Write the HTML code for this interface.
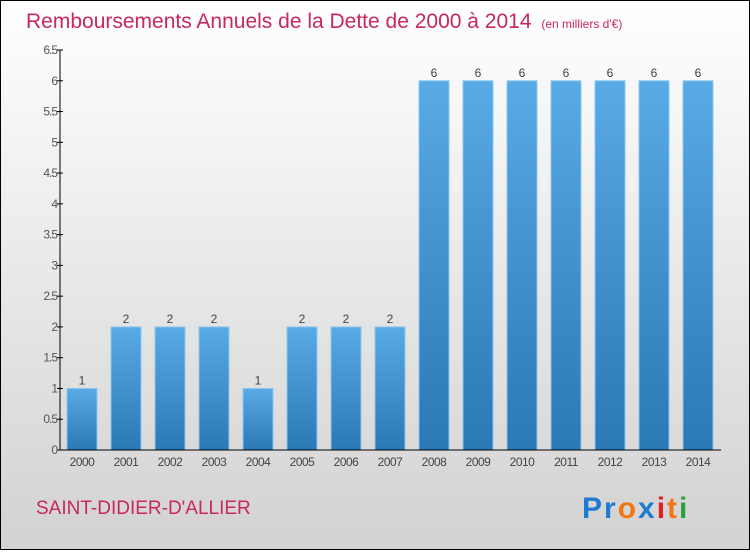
<!DOCTYPE html>
<html><head><meta charset="utf-8"><style>
body{margin:0;width:750px;height:550px;overflow:hidden;font-family:"Liberation Sans",sans-serif}
</style></head><body>
<svg width="750" height="550" xmlns="http://www.w3.org/2000/svg">
<defs>
<linearGradient id="bg" x1="0" y1="0" x2="0" y2="1"><stop offset="0" stop-color="#ffffff"/><stop offset="1" stop-color="#d2d2d2"/></linearGradient>
<linearGradient id="bar" x1="0" y1="0" x2="0" y2="1"><stop offset="0" stop-color="#5aaae6"/><stop offset="1" stop-color="#2a78b4"/></linearGradient>
</defs>
<rect x="0.5" y="0.5" width="749" height="549" fill="url(#bg)" stroke="#000"/>
<text x="26" y="28" font-size="21" fill="#c8285a">Remboursements Annuels de la Dette de 2000 à 2014 <tspan font-size="12" dx="4">(en milliers d'€)</tspan></text>
<g id="yaxis"></g>
<g id="bars"></g>
<g id="xaxis"></g>
<text x="36" y="514" font-size="19" fill="#c8285a">SAINT-DIDIER-D'ALLIER</text>
<text x="582" y="518" font-size="30" font-weight="bold" letter-spacing="2"><tspan fill="#1e7ad2">Pr</tspan><tspan fill="#f07814">o</tspan><tspan fill="#1e7ad2">x</tspan><tspan fill="#e02020">i</tspan><tspan fill="#f07814">t</tspan><tspan fill="#28a040">i</tspan></text>
</svg>
<script>
const years=["2000","2001","2002","2003","2004","2005","2006","2007","2008","2009","2010","2011","2012","2013","2014"];
const values=[1,2,2,2,1,2,2,2,6,6,6,6,6,6,6];
const yTicks=[0,0.5,1,1.5,2,2.5,3,3.5,4,4.5,5,5.5,6,6.5];
const NS="http://www.w3.org/2000/svg";
const y0=450,yTop=50,yMax=6.5;
const y=v=>y0-(y0-yTop)*v/yMax;
const x=i=>82+44*i;
function mk(t,a,p){const e=document.createElementNS(NS,t);for(const k in a)e.setAttribute(k,a[k]);p.appendChild(e);return e;}
const ya=document.getElementById('yaxis'),ba=document.getElementById('bars'),xa=document.getElementById('xaxis');
mk('line',{x1:60,y1:yTop,x2:60,y2:y0,stroke:'#000'},ya);
yTicks.forEach(t=>{
 mk('line',{x1:57,y1:y(t),x2:63,y2:y(t),stroke:'#000'},ya);
 const tx=mk('text',{x:57,y:y(t)+4,'font-size':12,'text-anchor':'end',fill:'#555','letter-spacing':'-1'},ya);
 
 
 tx.textContent=String(t);
});
mk('line',{x1:60,y1:y0,x2:721,y2:y0,stroke:'#000'},xa);
years.forEach((yr,i)=>{
 const r=mk('rect',{x:x(i)-15,y:y(values[i]),width:30,height:y0-y(values[i]),fill:'url(#bar)',stroke:'#8cc8f0','stroke-width':1},ba);
 
 
 const v=mk('text',{x:x(i),y:y(values[i])-4,'font-size':12,'text-anchor':'middle',fill:'#444'},ba);
 
 
 v.textContent=values[i];
 const l=mk('text',{x:x(i),y:466,'font-size':12,'text-anchor':'middle',fill:'#444','letter-spacing':'-0.5'},xa);
 
 
 l.textContent=yr;
});
</script>
</body></html>
